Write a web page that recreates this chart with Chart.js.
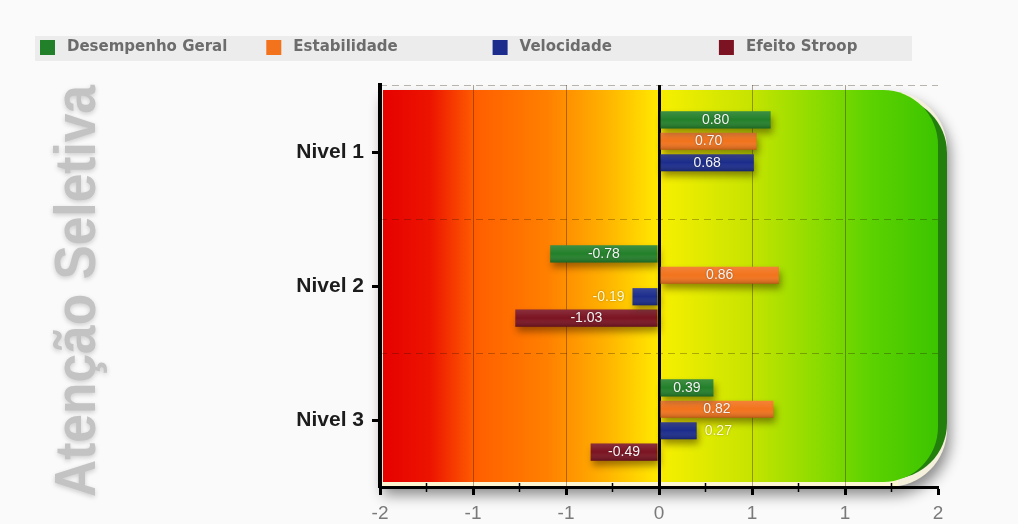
<!DOCTYPE html>
<html lang="pt">
<head>
<meta charset="utf-8">
<title>Atenção Seletiva</title>
<script src="https://cdn.jsdelivr.net/npm/chart.js@4/dist/chart.umd.min.js"></script>
<style>
  html, body { margin: 0; padding: 0; background: #fafafa; }
  #wrap { width: 1018px; height: 524px; }
</style>
</head>
<body>
<div id="wrap"><canvas id="chart" width="1018" height="524"></canvas></div>
<script>
// Categories and series values
const categories = ['Nivel 1', 'Nivel 2', 'Nivel 3'];
const seriesNames = ['Desempenho Geral', 'Estabilidade', 'Velocidade', 'Efeito Stroop'];
const desempenhoGeral = [0.80, -0.78, 0.39];
const estabilidade = [0.70, 0.86, 0.82];
const velocidade = [0.68, -0.19, 0.27];
const efeitoStroop = [null, -1.03, -0.49];
const seriesColors = ['#23802a', '#f2731c', '#1b2c8c', '#7b1322'];

// x axis: -2..2 split into six equal steps, labels shown rounded
const xMin = -2;
const xMax = 2;
const xSteps = 6;

const titleText = 'Atenção Seletiva';

const seriesValues = [desempenhoGeral, estabilidade, velocidade, efeitoStroop];

// Rounded panel with square left corners
function panelPath(ctx, l, t, r, b, rad) {
  ctx.beginPath();
  ctx.moveTo(l, t);
  ctx.lineTo(r - rad, t);
  ctx.arcTo(r, t, r, t + rad, rad);
  ctx.lineTo(r, b - rad);
  ctx.arcTo(r, b, r - rad, b, rad);
  ctx.lineTo(l, b);
  ctx.closePath();
}

// Background panel: red -> yellow -> green band behind the bars
const panelBackground = {
  id: 'panelBackground',
  beforeDraw(chart) {
    const { ctx, chartArea: a } = chart;
    ctx.save();
    // drop shadow
    ctx.shadowColor = 'rgba(0,0,0,0.45)';
    ctx.shadowBlur = 14;
    ctx.shadowOffsetX = 3;
    ctx.shadowOffsetY = 8;
    panelPath(ctx, a.left, a.top + 6, a.right + 9, a.bottom, 58);
    ctx.fillStyle = '#f4f0dc';
    ctx.fill();
    ctx.restore();

    ctx.save();
    // pale strip along the bottom axis
    ctx.fillStyle = '#fdf5d2';
    ctx.fillRect(a.left, a.bottom - 8, a.right - a.left - 40, 8);
    // dark green edge on the right
    panelPath(ctx, a.left + 3, a.top + 12, a.right + 9, a.bottom - 8, 56);
    ctx.fillStyle = '#237f0c';
    ctx.fill();
    // main gradient
    const g = ctx.createLinearGradient(a.left, 0, a.right, 0);
    g.addColorStop(0.00, '#e60000');
    g.addColorStop(0.09, '#ec1400');
    g.addColorStop(0.17, '#ff5e00');
    g.addColorStop(0.30, '#ff8000');
    g.addColorStop(0.40, '#ffb000');
    g.addColorStop(0.49, '#ffe400');
    g.addColorStop(0.52, '#f2ee00');
    g.addColorStop(0.66, '#c8e400');
    g.addColorStop(0.78, '#8edc00');
    g.addColorStop(0.88, '#5cd200');
    g.addColorStop(1.00, '#3cc400');
    panelPath(ctx, a.left + 3, a.top + 5, a.right, a.bottom - 5, 55);
    ctx.fillStyle = g;
    ctx.fill();
    ctx.restore();
  }
};

// Legend band at the top and the vertical title on the left
const decorations = {
  id: 'decorations',
  afterDraw(chart) {
    const { ctx } = chart;
    ctx.save();
    ctx.fillStyle = '#ececec';
    ctx.fillRect(35, 36, 877, 25);
    ctx.font = 'bold 15px "DejaVu Sans"';
    ctx.textBaseline = 'middle';
    ctx.textAlign = 'left';
    chart.data.datasets.forEach((ds, i) => {
      const x = 40 + i * 226.3;
      ctx.fillStyle = ds.backgroundColor;
      ctx.fillRect(x, 40, 15, 15);
      ctx.fillStyle = '#6c6c6c';
      ctx.fillText(ds.label, x + 27, 47.5);
    });
    ctx.restore();

    // vertical title
    ctx.save();
    ctx.translate(95, 291);
    ctx.rotate(-Math.PI / 2);
    ctx.font = 'bold 58px "Liberation Sans"';
    const w = ctx.measureText(titleText).width;
    ctx.scale(412 / w, 1);
    ctx.textAlign = 'center';
    ctx.textBaseline = 'alphabetic';
    ctx.shadowColor = 'rgba(0,0,0,0.18)';
    ctx.shadowBlur = 5;
    ctx.shadowOffsetY = 2;
    ctx.fillStyle = '#c3c3c3';
    ctx.fillText(titleText, 0, 0);
    ctx.restore();

    // minor ticks half way between the labelled ticks
    const xs = chart.scales.x;
    const ticks = xs.ticks;
    ctx.save();
    ctx.strokeStyle = '#000';
    ctx.lineWidth = 1.5;
    for (let i = 0; i < ticks.length - 1; i++) {
      const px = xs.getPixelForValue((ticks[i].value + ticks[i + 1].value) / 2);
      ctx.beginPath();
      ctx.moveTo(px, xs.top - 4);
      ctx.lineTo(px, xs.top + 5);
      ctx.stroke();
    }
    ctx.restore();
  }
};

// Bar shadows, gloss and value labels
const barDecor = {
  id: 'barDecor',
  beforeDatasetsDraw(chart) {
    const ctx = chart.ctx;
    ctx.save();
    ctx.shadowColor = 'rgba(40,20,0,0.45)';
    ctx.shadowBlur = 7;
    ctx.shadowOffsetX = 2;
    ctx.shadowOffsetY = 5;
  },
  afterDatasetsDraw(chart) {
    const ctx = chart.ctx;
    ctx.restore();
    ctx.save();
    // gloss: lighter top, darker bottom on each bar
    chart.data.datasets.forEach((ds, di) => {
      chart.getDatasetMeta(di).data.forEach((bar, i) => {
        if (ds.data[i] === null || ds.data[i] === undefined) return;
        const top = bar.y - bar.height / 2;
        const g = ctx.createLinearGradient(0, top, 0, top + bar.height);
        g.addColorStop(0, 'rgba(255,255,255,0.12)');
        g.addColorStop(0.5, 'rgba(255,255,255,0)');
        g.addColorStop(1, 'rgba(0,0,0,0.22)');
        ctx.fillStyle = g;
        ctx.fillRect(Math.min(bar.x, bar.base), top, Math.abs(bar.x - bar.base), bar.height);
      });
    });
    ctx.font = '14px "Liberation Sans"';
    ctx.textBaseline = 'middle';
    chart.data.datasets.forEach((ds, di) => {
      const meta = chart.getDatasetMeta(di);
      meta.data.forEach((bar, i) => {
        const v = ds.data[i];
        if (v === null || v === undefined) return;
        const txt = v.toFixed(2);
        const tw = ctx.measureText(txt).width;
        const len = Math.abs(bar.x - bar.base);
        ctx.shadowColor = 'rgba(0,0,0,0.35)';
        ctx.shadowBlur = 2;
        if (len > tw + 10) {
          ctx.textAlign = 'center';
          ctx.fillStyle = '#f4f4f4';
          ctx.fillText(txt, (bar.x + bar.base) / 2, bar.y);
        } else if (v >= 0) {
          ctx.textAlign = 'left';
          ctx.fillStyle = '#fffbd2';
          ctx.fillText(txt, bar.x + 8, bar.y);
        } else {
          ctx.textAlign = 'right';
          ctx.fillStyle = '#fffbd2';
          ctx.fillText(txt, bar.x - 8, bar.y);
        }
      });
    });
    ctx.restore();
  }
};

const xTickValues = [];
for (let i = 0; i <= xSteps; i++) xTickValues.push(xMin + (xMax - xMin) * i / xSteps);

new Chart(document.getElementById('chart'), {
  type: 'bar',
  data: {
    labels: categories,
    datasets: seriesNames.map((name, i) => ({
      label: name,
      data: seriesValues[i],
      backgroundColor: seriesColors[i],
      borderWidth: 0,
      categoryPercentage: 0.64,
      barPercentage: 0.8
    }))
  },
  options: {
    indexAxis: 'y',
    responsive: false,
    devicePixelRatio: 1,
    animation: false,
    events: [],
    layout: { padding: { top: 85, right: 80, bottom: 0, left: 0 } },
    plugins: {
      legend: { display: false },
      title: { display: false },
      tooltip: { enabled: false }
    },
    scales: {
      x: {
        type: 'linear',
        min: xMin,
        max: xMax,
        afterBuildTicks(scale) {
          scale.ticks = xTickValues.map(v => ({ value: v }));
        },
        afterFit(scale) { scale.height = 37; },
        ticks: {
          color: '#7a7a7a',
          font: { family: 'Liberation Sans', size: 19 },
          padding: 7,
          callback: v => String(Math.round(v) + 0)
        },
        grid: {
          color: c => {
            const v = c.tick ? c.tick.value : 0;
            if (Math.abs(v) < 1e-9) return '#000';
            if (Math.abs(Math.abs(v) - 2) < 1e-9) return 'rgba(0,0,0,0)';
            return 'rgba(60,30,0,0.4)';
          },
          lineWidth: c => (c.tick && Math.abs(c.tick.value) < 1e-9 ? 3 : 1),
          tickColor: '#000',
          tickWidth: 3,
          tickLength: 8
        },
        border: { color: '#000', width: 3 }
      },
      y: {
        type: 'category',
        afterFit(scale) { scale.width = 380; },
        ticks: {
          color: '#1c1c1c',
          font: { family: 'Liberation Sans', size: 21, weight: 'bold' },
          padding: 8
        },
        grid: {
          offset: false,
          drawOnChartArea: false,
          tickColor: '#000',
          tickWidth: 3,
          tickLength: 8
        },
        border: { color: '#000', width: 4 }
      },
      yBands: {
        type: 'category',
        labels: categories,
        position: 'left',
        offset: true,
        afterFit(scale) { scale.width = 0; },
        ticks: { display: false },
        grid: {
          offset: true,
          drawTicks: false,
          color: 'rgba(40,20,0,0.3)',
          lineWidth: 1
        },
        border: { display: false, dash: [7, 5] }
      }
    }
  },
  plugins: [panelBackground, barDecor, decorations]
});
</script>
</body>
</html>
